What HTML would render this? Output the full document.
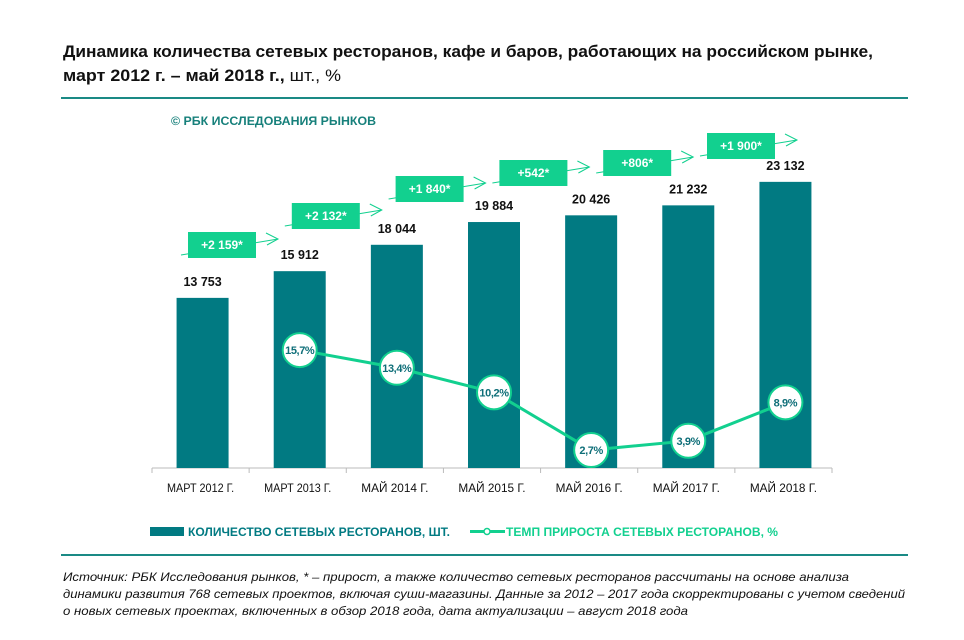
<!DOCTYPE html>
<html><head><meta charset="utf-8"><style>
html,body{margin:0;padding:0;background:#fff;}
svg{display:block;font-family:"Liberation Sans","DejaVu Sans",sans-serif;}
</style></head><body>
<svg id="chart" width="964" height="640" viewBox="0 0 964 640" xmlns="http://www.w3.org/2000/svg">
<text x="63" y="57" font-size="16.5" font-weight="bold" fill="#111" textLength="810" lengthAdjust="spacingAndGlyphs">Динамика количества сетевых ресторанов, кафе и баров, работающих на российском рынке,</text>
<text x="63" y="81" font-size="16.5" fill="#111" textLength="278" lengthAdjust="spacingAndGlyphs"><tspan font-weight="bold">март 2012 г. – май 2018 г.,</tspan> шт., %</text>
<line x1="61" y1="98" x2="908" y2="98" stroke="#1a8a85" stroke-width="2"/>
<text x="171" y="125" font-size="11.5" font-weight="bold" fill="#17807b" textLength="205" lengthAdjust="spacingAndGlyphs">© РБК ИССЛЕДОВАНИЯ РЫНКОВ</text>
<g id="plot"></g>
<g>
<rect x="150" y="527" width="34" height="9" fill="#017a82"/>
<text x="188" y="536" font-size="12" font-weight="bold" fill="#017a82" textLength="262" lengthAdjust="spacingAndGlyphs">КОЛИЧЕСТВО СЕТЕВЫХ РЕСТОРАНОВ, ШТ.</text>
<line x1="470" y1="531.5" x2="505" y2="531.5" stroke="#12d08f" stroke-width="3"/>
<circle cx="487" cy="531.5" r="3" fill="#fff" stroke="#12d08f" stroke-width="1.5"/>
<text x="506" y="536" font-size="12" font-weight="bold" fill="#12d08f" textLength="272" lengthAdjust="spacingAndGlyphs">ТЕМП ПРИРОСТА СЕТЕВЫХ РЕСТОРАНОВ, %</text>
</g>
<line x1="61" y1="555" x2="908" y2="555" stroke="#1a8a85" stroke-width="2"/>
<g font-size="12" font-style="italic" fill="#111">
<text x="63" y="581" textLength="786" lengthAdjust="spacingAndGlyphs">Источник: РБК Исследования рынков, * – прирост, а также количество сетевых ресторанов рассчитаны на основе анализа</text>
<text x="63" y="598" textLength="842" lengthAdjust="spacingAndGlyphs">динамики развития 768 сетевых проектов, включая суши-магазины. Данные за 2012 – 2017 года скорректированы с учетом сведений</text>
<text x="63" y="615" textLength="625" lengthAdjust="spacingAndGlyphs">о новых сетевых проектах, включенных в обзор 2018 года, дата актуализации – август 2018 года</text>
</g>
</svg>
<script>
const categories = ["МАРТ 2012 Г.","МАРТ 2013 Г.","МАЙ 2014 Г.","МАЙ 2015 Г.","МАЙ 2016 Г.","МАЙ 2017 Г.","МАЙ 2018 Г."];
const counts = [13753, 15912, 18044, 19884, 20426, 21232, 23132];
const countLabels = ["13 753","15 912","18 044","19 884","20 426","21 232","23 132"];
const growthRates = [null, 15.7, 13.4, 10.2, 2.7, 3.9, 8.9];
const rateLabels = ["", "15,7%", "13,4%", "10,2%", "2,7%", "3,9%", "8,9%"];
const increments = ["+2 159*","+2 132*","+1 840*","+542*","+806*","+1 900*"];

const NS = "http://www.w3.org/2000/svg";
const plot = document.getElementById("plot");
const x0 = 154, x1 = 834, baseY = 468;
const band = (x1 - x0) / categories.length;
function xC(i){ return x0 + band * (i + 0.5); }
function yCount(v){ return baseY - v * 0.01237; }
function yRate(v){ return 470.8 - v * 7.69; }
function mk(tag, attrs, parent){
  const e = document.createElementNS(NS, tag);
  for (const k in attrs) e.setAttribute(k, attrs[k]);
  (parent || plot).appendChild(e);
  return e;
}

const axis = mk("line", {x1:x0-2, y1:baseY, x2:x1-2, y2:baseY, stroke:"#bbb", "stroke-width":1});


for (let i = 0; i <= categories.length; i++) {
  const t = mk("line", {x1:x0 - 2 + band*i, y1:baseY, x2:x0 - 2 + band*i, y2:baseY+5, stroke:"#bbb"});
  
  
}

categories.forEach((c, i) => {
  const bar = mk("rect", {x:xC(i)-26, y:yCount(counts[i]), width:52, height:baseY - yCount(counts[i]), fill:"#017a82"});
  
  
  const lbl = mk("text", {x:xC(i), y:yCount(counts[i]) - 12, "text-anchor":"middle", "font-size":12.5, "font-weight":"bold", fill:"#111"});
  lbl.textContent = countLabels[i];
  
  
  const xl = mk("text", {x:xC(i)-2, y:492, "text-anchor":"middle", "font-size":12, fill:"#111", textLength:band-30, lengthAdjust:"spacingAndGlyphs"});
  xl.textContent = c;
  
  
});

let pts = [];
growthRates.forEach((r, i) => { if (r !== null) pts.push(xC(i) + "," + yRate(r)); });
const line = mk("polyline", {points:pts.join(" "), fill:"none", stroke:"#12d08f", "stroke-width":3});


growthRates.forEach((r, i) => {
  if (r === null) return;
  const c = mk("circle", {cx:xC(i), cy:yRate(r), r:17, fill:"#fff", stroke:"#12d08f", "stroke-width":2});
  
  
  const t = mk("text", {x:xC(i), y:yRate(r)+4, "text-anchor":"middle", "font-size":11, "font-weight":"bold", fill:"#0e6e78", "letter-spacing":"-0.4"});
  t.textContent = rateLabels[i];
  
  
});

const boxY = [232, 203, 176, 160, 150, 133];
increments.forEach((s, i) => {
  const bx = 188 + i * 103.8, by = boxY[i];
  const g = mk("g", {});
  
  
  mk("line", {x1:bx-7, y1:by+23, x2:bx+90, y2:by+7, stroke:"#12d08f", "stroke-width":1}, g);
  mk("polyline", {points:(bx+78)+","+(by+1)+" "+(bx+90)+","+(by+7)+" "+(bx+79)+","+(by+13), fill:"none", stroke:"#12d08f", "stroke-width":1}, g);
  mk("rect", {x:bx, y:by, width:68, height:26, fill:"#12d08f"}, g);
  const t = mk("text", {x:bx+34, y:by+17, "text-anchor":"middle", "font-size":12, "font-weight":"bold", fill:"#fff"}, g);
  t.textContent = s;
});
</script>
</body></html>
